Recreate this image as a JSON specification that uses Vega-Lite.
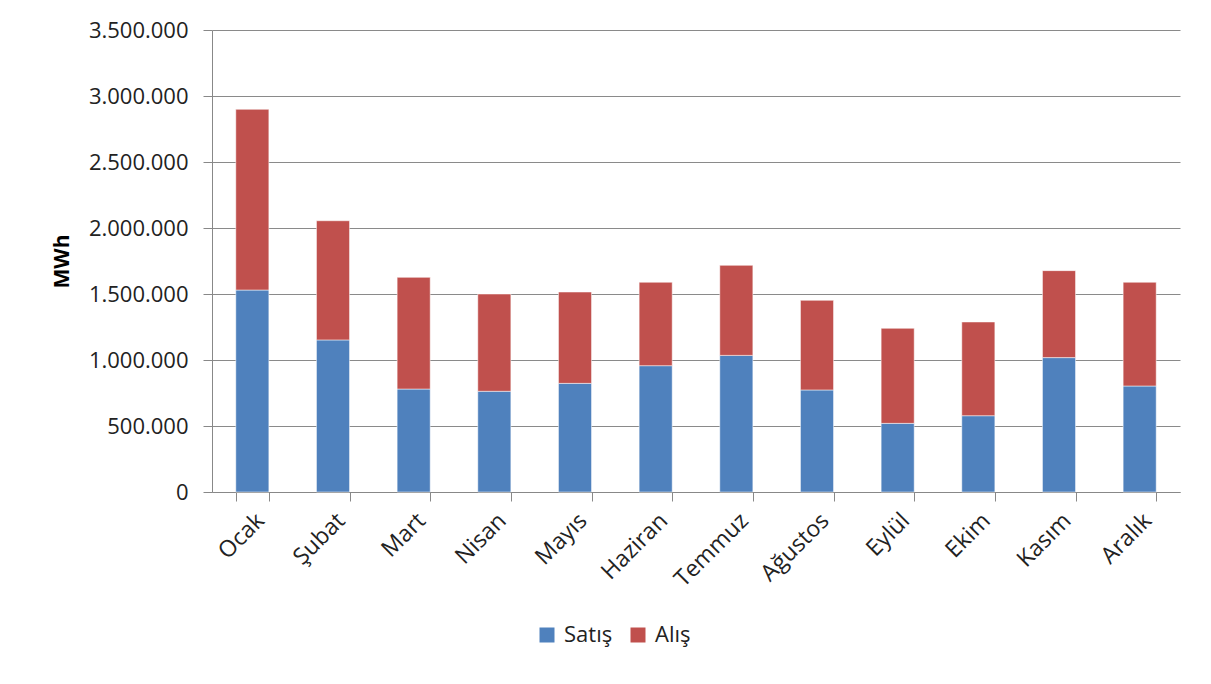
{
  "$schema": "https://vega.github.io/schema/vega-lite/v6.json",
  "width": 968,
  "height": 462,
  "autosize": {"type": "none"},
  "padding": {"left": 212, "top": 30, "right": 31, "bottom": 192},
  "background": "white",
  "data": {
    "values": [
      {"ay": "Ocak", "tur": "Satış", "sira": 1, "mwh": 1530000},
      {"ay": "Ocak", "tur": "Alış", "sira": 2, "mwh": 1369000},
      {"ay": "Şubat", "tur": "Satış", "sira": 1, "mwh": 1152000},
      {"ay": "Şubat", "tur": "Alış", "sira": 2, "mwh": 903000},
      {"ay": "Mart", "tur": "Satış", "sira": 1, "mwh": 780000},
      {"ay": "Mart", "tur": "Alış", "sira": 2, "mwh": 846000},
      {"ay": "Nisan", "tur": "Satış", "sira": 1, "mwh": 763000},
      {"ay": "Nisan", "tur": "Alış", "sira": 2, "mwh": 737000},
      {"ay": "Mayıs", "tur": "Satış", "sira": 1, "mwh": 823000},
      {"ay": "Mayıs", "tur": "Alış", "sira": 2, "mwh": 692000},
      {"ay": "Haziran", "tur": "Satış", "sira": 1, "mwh": 957000},
      {"ay": "Haziran", "tur": "Alış", "sira": 2, "mwh": 632000},
      {"ay": "Temmuz", "tur": "Satış", "sira": 1, "mwh": 1035000},
      {"ay": "Temmuz", "tur": "Alış", "sira": 2, "mwh": 682000},
      {"ay": "Ağustos", "tur": "Satış", "sira": 1, "mwh": 773000},
      {"ay": "Ağustos", "tur": "Alış", "sira": 2, "mwh": 679000},
      {"ay": "Eylül", "tur": "Satış", "sira": 1, "mwh": 520000},
      {"ay": "Eylül", "tur": "Alış", "sira": 2, "mwh": 720000},
      {"ay": "Ekim", "tur": "Satış", "sira": 1, "mwh": 578000},
      {"ay": "Ekim", "tur": "Alış", "sira": 2, "mwh": 710000},
      {"ay": "Kasım", "tur": "Satış", "sira": 1, "mwh": 1018000},
      {"ay": "Kasım", "tur": "Alış", "sira": 2, "mwh": 659000},
      {"ay": "Aralık", "tur": "Satış", "sira": 1, "mwh": 803000},
      {"ay": "Aralık", "tur": "Alış", "sira": 2, "mwh": 786000}
    ]
  },
  "mark": {"type": "bar", "stroke": "#ffffff", "strokeOpacity": 0.5, "strokeWidth": 1},
  "encoding": {
    "x": {
      "field": "ay",
      "type": "nominal",
      "sort": ["Ocak", "Şubat", "Mart", "Nisan", "Mayıs", "Haziran", "Temmuz", "Ağustos", "Eylül", "Ekim", "Kasım", "Aralık"],
      "scale": {"paddingInner": 0.59, "paddingOuter": 0.295},
      "axis": {
        "title": null,
        "labelAngle": -45,
        "labelAlign": "right",
        "labelBaseline": "top",
        "labelFont": "Open Sans",
        "labelFontSize": 23,
        "labelColor": "#222222",
        "labelPadding": 8,
        "domainColor": "#888888",
        "tickColor": "#888888",
        "tickBand": "extent",
        "tickSize": 9,
        "grid": false
      }
    },
    "y": {
      "field": "mwh",
      "type": "quantitative",
      "stack": "zero",
      "scale": {"domain": [0, 3500000], "nice": false},
      "axis": {
        "title": "MWh",
        "titleFont": "Open Sans",
        "titleFontSize": 21,
        "titleFontWeight": "bold",
        "titleColor": "#000000",
        "titlePadding": 16,
        "values": [0, 500000, 1000000, 1500000, 2000000, 2500000, 3000000, 3500000],
        "labelExpr": "replace(format(datum.value, ',d'), /,/g, '.')",
        "labelFont": "Open Sans",
        "labelFontSize": 22,
        "labelColor": "#222222",
        "labelPadding": 15,
        "domainColor": "#888888",
        "tickColor": "#888888",
        "tickSize": 9,
        "gridColor": "#8a8a8a",
        "gridWidth": 1
      }
    },
    "color": {
      "field": "tur",
      "type": "nominal",
      "scale": {"domain": ["Satış", "Alış"], "range": ["#4F81BD", "#C0504D"]},
      "legend": {
        "title": null,
        "orient": "none",
        "direction": "horizontal",
        "legendX": 324,
        "legendY": 594,
        "symbolType": "square",
        "symbolSize": 225,
        "symbolStrokeWidth": 0,
        "labelFont": "Open Sans",
        "labelFontSize": 22,
        "labelColor": "#222222",
        "labelOffset": 6,
        "columnPadding": 14
      }
    },
    "order": {"field": "sira", "type": "quantitative"}
  },
  "config": {"view": {"stroke": null}}
}
